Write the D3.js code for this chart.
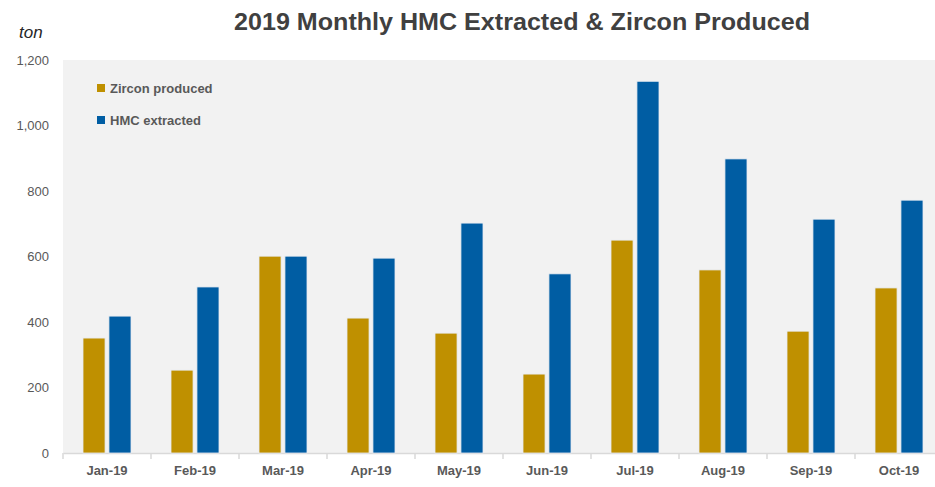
<!DOCTYPE html>
<html>
<head>
<meta charset="utf-8">
<script src="https://cdn.jsdelivr.net/npm/d3@7"></script>
<style>
  body { margin: 0; background: #fff; }
  svg { display: block; }
</style>
</head>
<body>
<svg id="chart" width="935" height="487"></svg>
<script>
// chart data
const months = ["Jan-19", "Feb-19", "Mar-19", "Apr-19", "May-19", "Jun-19", "Jul-19", "Aug-19", "Sep-19", "Oct-19"];
const zircon = [351, 253, 601, 412, 366, 241, 650, 559, 372, 504];
const hmc = [418, 507, 601, 595, 702, 547, 1135, 898, 714, 772];
const yTicks = [0, 200, 400, 600, 800, 1000, 1200];
const seriesNames = ["Zircon produced", "HMC extracted"];
const seriesColors = ["#BF9000", "#005DA3"];

function draw_chart(){
  let svg = d3.select("#chart");
  let left = 63, right = 943, top = 60, bottom = 453;

  let x = d3.scaleBand().domain(months).range([left, right]);
  let y = d3.scaleLinear().domain([0, 1200]).range([bottom, top]);

  // plot background
  svg.append("rect")
    .attr("x", left).attr("y", top)
    .attr("width", 935 - left).attr("height", bottom - top)
    .attr("fill", "#F2F2F2");

  // title
  svg.append("text")
    .attr("x", 522).attr("y", 30)
    .attr("text-anchor", "middle")
    .attr("font-family", "Liberation Sans, Arial, sans-serif")
    .attr("font-weight", "bold")
    .attr("font-size", 23)
    .attr("textLength", 576)
    .attr("lengthAdjust", "spacingAndGlyphs")
    .attr("fill", "#404040")
    .text("2019 Monthly HMC Extracted & Zircon Produced");

  svg.append("text")
    .attr("x", 19).attr("y", 38)
    .attr("font-family", "Liberation Sans, Arial, sans-serif")
    .attr("font-style", "italic")
    .attr("font-size", 17)
    .attr("fill", "#262626")
    .text("ton");

  // y axis labels
  let yAxis = d3.axisLeft(y).tickValues(yTicks).tickSize(0).tickPadding(10)
    .tickFormat(d3.format(","));
  let gy = svg.append("g").attr("transform", "translate(" + (left - 4) + ",0)").call(yAxis);
  gy.select(".domain").remove();
  gy.selectAll("text")
    .attr("font-family", "Liberation Sans, Arial, sans-serif")
    .attr("font-size", 13)
    .attr("fill", "#595959");

  // x axis
  let xAxis = d3.axisBottom(x).tickSize(0).tickPadding(13);
  let gx = svg.append("g").attr("transform", "translate(0," + bottom + ")").call(xAxis);
  gx.select(".domain").attr("stroke", "#D9D9D9").attr("stroke-width", 1.5);
  gx.selectAll("text")
    .attr("font-family", "Liberation Sans, Arial, sans-serif")
    .attr("font-weight", "bold")
    .attr("font-size", 13)
    .attr("fill", "#595959");
  gx.selectAll(".sep")
    .data(months).enter()
    .append("line")
      .attr("x1", function(d){ return x(d) })
      .attr("x2", function(d){ return x(d) })
      .attr("y1", 0).attr("y2", 6)
      .attr("stroke", "#D9D9D9").attr("stroke-width", 1.5);

  // bars
  let sub = d3.scaleBand().domain([0, 1]).range([-24, 24]).paddingInner(0.15).paddingOuter(0);
  let series = [zircon, hmc];
  series.forEach(function(vals, s){
    svg.append("g").selectAll("rect")
      .data(vals).enter()
      .append("rect")
        .attr("x", function(d, i){ return x(months[i]) + x.bandwidth() / 2 + sub(s) })
        .attr("y", function(d){ return y(d) })
        .attr("width", sub.bandwidth())
        .attr("height", function(d){ return y(0) - y(d) })
        .attr("fill", seriesColors[s])
        .attr("stroke", "#E8ECF2")
        .attr("stroke-width", 0.8);
  });

  // legend
  let legend = svg.append("g");
  seriesNames.forEach(function(name, i){
    legend.append("rect")
      .attr("x", 97).attr("y", 84 + i * 32)
      .attr("width", 8).attr("height", 8)
      .attr("fill", seriesColors[i]);
    legend.append("text")
      .attr("x", 110).attr("y", 93 + i * 32)
      .attr("font-family", "Liberation Sans, Arial, sans-serif")
      .attr("font-weight", "bold")
      .attr("font-size", 13)
      .attr("fill", "#595959")
      .text(name);
  });
}

draw_chart();
</script>
</body>
</html>
